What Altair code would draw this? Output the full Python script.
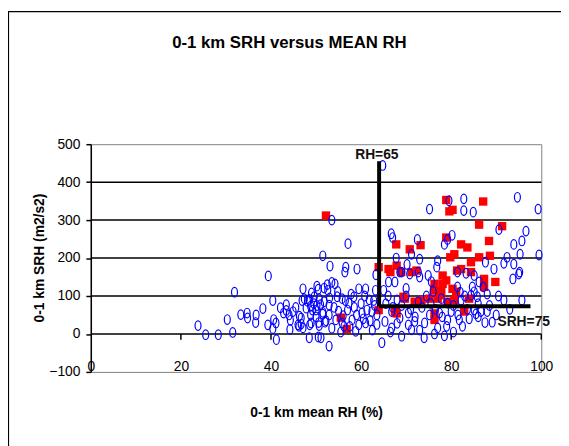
import altair as alt
import pandas as pd

FONT = "Liberation Sans"

chart_title = ["0-1 km SRH versus MEAN RH"]
x_title = "0-1 km mean RH (%)"
y_title = "0-1 km SRH (m2/s2)"
x_ticks = [0, 20, 40, 60, 80, 100]
y_ticks = [-100, 0, 100, 200, 300, 400, 500]
grid_vals = [0, 100, 200, 300, 400]
minor_x_marks = [20, 40, 60, 80, 100]

# blue open "o" markers: (mean RH %, SRH)
blue_rh = [
    23.8, 25.5, 28.3, 31.5, 30.3, 31.9, 33.3, 34.7, 34.8, 36.7, 36.6, 38.2, 39.4, 39.3, 40.4, 40.6,
    41.2, 41.1, 40.4, 42.1, 43.4, 43.4, 44.0, 44.3, 44.2, 44.9, 46.3, 46.2, 47.1, 47.1, 47.4, 46.7,
    45.5, 42.8,
    51.5, 53.1, 50.2, 50.5, 51.8, 52.5, 53.5, 54.2, 46.9, 48.1, 47.8, 48.8, 49.2, 48.6, 48.8, 49.5,
    50.2, 50.0, 50.6, 51.0, 51.5, 52.0, 48.5, 50.5, 52.9, 56.6, 56.4, 59.1, 52.6, 48.5, 49.6, 50.7,
    51.8, 52.9, 54.7, 55.8, 57.3, 57.0, 58.4, 59.5, 61.0, 63.2, 61.3, 62.4, 63.5, 50.0, 51.5, 52.9,
    54.4, 55.8, 46.7, 46.0, 48.9, 50.7, 52.2, 58.0, 59.5, 61.0, 58.8, 51.1, 53.5, 57.1, 54.0, 55.0,
    56.0, 57.5, 59.0, 60.0, 60.5, 61.8, 62.5, 63.0, 55.5, 53.5, 57.8, 60.2, 62.0, 56.5, 58.5, 60.8,
    62.8, 63.5, 54.8, 56.2, 53.0, 49.0,
    64.6, 65.3, 66.8, 69.0, 66.1, 67.5, 69.0, 66.8, 68.6, 70.5,
    64.8, 75.2, 79.5, 82.8, 82.8, 84.9, 94.7, 99.3, 72.5, 78.5, 80.2, 90.6, 96.6, 95.7, 93.9, 79.2,
    66.7, 67.0, 71.2, 77.0, 63.3, 68.6, 70.8, 72.7, 74.9, 75.6, 81.4, 83.3, 85.1, 87.6, 89.5, 91.7,
    92.4, 93.9, 95.3, 99.5, 95.2, 93.7, 91.7, 95.7, 89.1, 86.6, 85.1, 88.0, 85.1, 86.2, 84.7, 85.8,
    73.0, 87.1, 95.0, 85.5, 81.8, 79.2, 77.4, 74.1, 71.9, 71.2, 76.3, 77.0, 70.5, 75.2, 80.0, 83.6,
    73.0, 81.4, 72.7, 77.8, 79.2, 82.2, 84.4,
    65.5, 66.0, 67.0, 68.0, 69.0, 70.0, 71.0, 72.0, 73.5, 74.5, 75.5, 76.5, 78.0, 79.0, 80.5, 81.5,
    82.5, 83.0, 84.0, 86.0, 87.5, 88.5, 90.0, 66.5, 68.0, 73.0, 78.5, 86.0, 70.0, 76.0, 82.0, 88.0,
    90.5, 93.0, 65.0, 74.0, 80.5, 70.2, 76.8, 67.8,
]
blue_srh = [
    22, -2, -2, 4, 38, 110, 51, 55, 42, 50, 30, 67, 153, 24, 88, 38,
    -15, 29, 14, 69, 77, 62, 50, 36, 12, 59, 47, 20, 16, 119, 93, 26,
    70, 55,
    206, 179, 126, 118, 121, 130, 136, 132, 88, 86, 68, 73, 63, 24, 50, 80,
    75, 45, 30, 77, 52, 31, -10, -8, -32, 176, 163, 171, 115, 91, 98, 93,
    85, 76, 98, 93, 81, 63, 98, 119, 119, 115, 63, 59, 50, 63, 57, 50,
    37, 29, 42, 24, 29, 22, 35, 37, 24, 29, 7, -10, 300, 238, 70, 60,
    48, 20, 50, 80, 40, 90, 10, 75, 5, 15, 105, 55, 35, 88, 70, 100,
    88, 25, 112, 20, 95, 108,
    -23, 33, 16, -6, 137, 137, 163, 59, 42, 24,
    444, 329, 351, 356, 325, 321, 360, 329, 249, 236, 260, 275, 271, 245, 236, 249,
    264, 254, 210, 193, 156, 163, 158, 163, 154, 138, 163, 160, 154, 189, 171, 186,
    202, 184, 210, 208, 163, 145, 89, 89, 31, 59, 63, 59, 111, 137, 124, 98,
    197, 124, 158, 53, 37, 37, 55, 29, 33, 11, 0, 16, 55, 50, 59, 65,
    150, 124, 85, 93, 81, 89, 102,
    80, 100, 70, 90, 75, 100, 65, 45, 70, 100, 80, 65, 45, 20, 75, 50,
    20, 100, 40, 80, 30, 75, 50, 5, 28, 10, -5, 45, 120, 112, 110, 105,
    100, 65, 115, -10, 5, 183, 176, 200,
]

# red filled squares
red_rh = [
    52.2, 55.5, 56.8, 63.9, 66.5, 67.9, 67.8, 68.9, 70.8, 73.2, 71.2, 72.3, 78.9, 79.6, 80.3, 78.9,
    79.8, 80.7, 82.2, 83.6, 81.3, 84.4, 86.2, 87.1, 88.4, 88.6, 91.3, 89.8, 86.2, 87.3, 87.3, 84.4,
    78.9, 78.1, 76.3, 76.2, 77.8, 80.3, 81.1, 84.0, 80.7, 75.2, 73.4, 71.9, 69.4, 63.9, 67.9, 76.3,
    76.3, 77.0, 82.9, 79.2, 82.2, 78.1, 77.4, 66.1, 67.5, 69.7,
]
red_srh = [
    312, 43, 13, 176, 163, 180, 236, 163, 223, 234, 163, 167, 353, 323, 327, 254,
    202, 210, 236, 228, 167, 189, 288, 349, 245, 206, 284, 137, 202, 145, 124, 163,
    141, 132, 132, 115, 111, 119, 111, 93, 89, 93, 89, 85, 98, 63, 54, 54,
    37, 93, 59, 85, 171, 154, 102, 171, 59, 93,
]

# threshold lines drawn on the chart
thr_x = [64, 64]
thr_x2 = [64, 97.6]
thr_y = [73, 73]
thr_y2 = [455, 73]

ann_text = ["RH=65", "SRH=75"]
ann_x = [63.5, 96.1]
ann_y = [472, 32]

blue = pd.DataFrame({"x": blue_rh, "y": blue_srh})
red = pd.DataFrame({"x": red_rh, "y": red_srh})
thr = pd.DataFrame({"x": thr_x, "x2": thr_x2, "y": thr_y, "y2": thr_y2})
ann = pd.DataFrame({"x": ann_x, "y": ann_y, "t": ann_text})
grid = pd.DataFrame({"y": grid_vals})
marks = pd.DataFrame({"x": minor_x_marks, "y": [0] * len(minor_x_marks), "y2": [-15] * len(minor_x_marks)})
ttl = pd.DataFrame({"t": chart_title})

xs = alt.Scale(domain=[0, 100], nice=False, zero=False)
ys = alt.Scale(domain=[-100, 500], nice=False, zero=False)

x_axis = alt.Axis(
    values=x_ticks, title=x_title, grid=False, domain=False, ticks=False, tickSize=0,
    labelPadding=-1, labelBaseline="alphabetic", labelFlush=False, labelOverlap=False,
    labelFont=FONT, labelFontSize=14, labelColor="black",
    titleFont=FONT, titleFontSize=14, titleFontWeight="bold", titleColor="black",
    titleY=41, titleBaseline="middle",
)
y_axis = alt.Axis(
    values=y_ticks, title=y_title, grid=False, domainColor="black", domainWidth=1.5,
    tickColor="black", tickSize=5, tickWidth=1.5, labelPadding=6, labelOverlap=False,
    labelFont=FONT, labelFontSize=14, labelColor="black", labelFlush=False,
    titleFont=FONT, titleFontSize=14, titleFontWeight="bold", titleColor="black",
    titleX=-52, titleY=115, titleBaseline="middle", titleAngle=270,
)

X = alt.X("x:Q", scale=xs, axis=x_axis)
Y = alt.Y("y:Q", scale=ys, axis=y_axis)

frame = alt.Chart(ttl).mark_rect(fillOpacity=0, stroke="black", strokeWidth=1.2).encode(
    x=alt.value(-83.5), x2=alt.value(800), y=alt.value(-134.5), y2=alt.value(800)
)

grid_l = alt.Chart(grid).mark_rule(color="black", strokeWidth=1.5).encode(y=Y)

marks_l = alt.Chart(marks).mark_rule(color="black", strokeWidth=1.5).encode(x=X, y=Y, y2="y2:Q")

red_l = alt.Chart(red).mark_point(shape="square", filled=True, color="#ff0000", size=72, opacity=1).encode(x=X, y=Y)

ellipse = "M0,-1A0.62,1,0,1,1,0,1A0.62,1,0,1,1,0,-1Z"
blue_l = alt.Chart(blue).mark_point(shape=ellipse, filled=False, color="#0000ff", size=95,
                                    strokeWidth=1.2, opacity=1).encode(x=X, y=Y)

thr_l = alt.Chart(thr).mark_rule(color="black", strokeWidth=4).encode(x=X, x2="x2:Q", y=Y, y2="y2:Q")

ann_l = alt.Chart(ann).mark_text(font=FONT, fontSize=14, fontWeight="bold", color="#111",
                                 baseline="middle", align="center").encode(x=X, y=Y, text="t:N")

title_l = alt.Chart(ttl).mark_text(font=FONT, fontSize=17, fontWeight="bold", color="black",
                                   baseline="middle", align="center").encode(
    x=alt.value(201.5), y=alt.value(-103), text="t:N"
)

chart = alt.layer(frame, grid_l, marks_l, red_l, blue_l, thr_l, ann_l, title_l).properties(
    width=457, height=231,
    padding={"left": 84, "top": 135, "right": 20, "bottom": 72},
    autosize=alt.AutoSizeParams(type="none"),
    background="white",
).configure_view(stroke="#808080", strokeWidth=1)

chart.save("out.html", embed_options={"renderer": "svg", "actions": False})
